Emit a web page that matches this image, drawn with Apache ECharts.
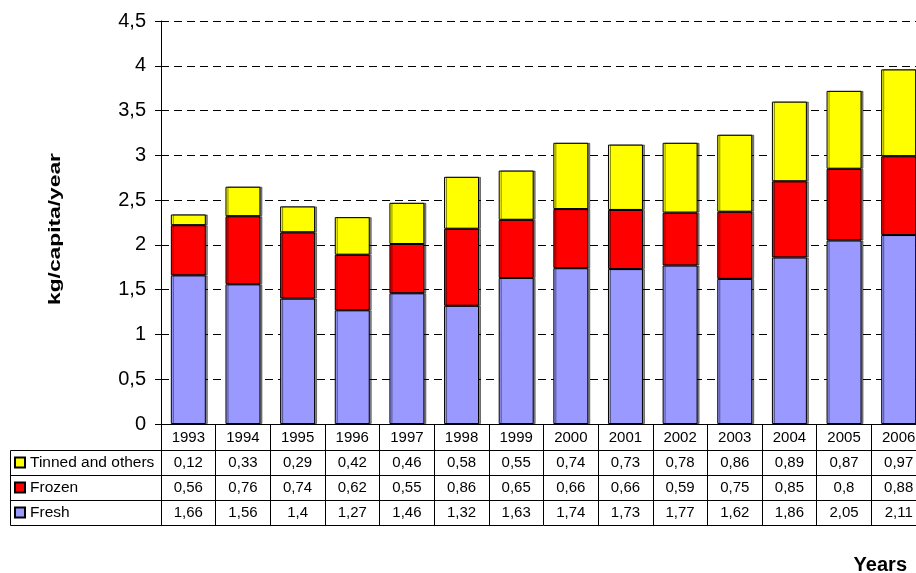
<!DOCTYPE html>
<html>
<head>
<meta charset="utf-8">
<script src="https://cdn.jsdelivr.net/npm/echarts@6/dist/echarts.min.js"></script>
<style>
  html, body { margin: 0; padding: 0; background: #fff; overflow: hidden; }
  /* the original chart runs past the right edge of the picture */
  #chart { width: 932px; height: 573px; }
</style>
</head>
<body>
<div id="chart"></div>
<script>
var years = ['1993','1994','1995','1996','1997','1998','1999','2000','2001','2002','2003','2004','2005','2006'];
var fresh  = [1.66, 1.56, 1.4, 1.27, 1.46, 1.32, 1.63, 1.74, 1.73, 1.77, 1.62, 1.86, 2.05, 2.11];
var frozen = [0.56, 0.76, 0.74, 0.62, 0.55, 0.86, 0.65, 0.66, 0.66, 0.59, 0.75, 0.85, 0.8, 0.88];
var tinned = [0.12, 0.33, 0.29, 0.42, 0.46, 0.58, 0.55, 0.74, 0.73, 0.78, 0.86, 0.89, 0.87, 0.97];

var FONT = 'Liberation Sans, Arial, sans-serif';

function comma(v) {
  return String(v).replace('.', ',');
}

// one x axis per table row, stacked below the plot
function tableAxis(offset, values) {
  return {
    type: 'category',
    data: years,
    position: 'bottom',
    offset: offset,
    axisLine: { show: true, lineStyle: { color: '#000', width: 1 } },
    axisTick: { show: false },
    axisLabel: {
      show: !!values,
      interval: 0,
      margin: 5,
      color: '#000',
      fontFamily: FONT,
      fontSize: 15,
      formatter: function (val, idx) { return values ? comma(values[idx]) : ''; }
    }
  };
}

var barStyle = function (color) {
  return {
    color: color,
    borderColor: '#000',
    borderWidth: 1,
    shadowColor: 'rgba(0,0,0,0.45)',
    shadowOffsetX: 2,
    shadowOffsetY: 0,
    shadowBlur: 0
  };
};

var myChart = echarts.init(document.getElementById('chart'));
myChart.setOption({
  backgroundColor: '#fff',
  animation: false,
  textStyle: { fontFamily: FONT },
  grid: { left: 161, top: 21, width: 765, height: 403, outerBoundsMode: 'none' },
  legend: {
    orient: 'vertical',
    left: 14,
    top: 450,
    padding: 0,
    itemGap: 0,
    itemWidth: 10,
    itemHeight: 10,
    icon: 'rect',
    data: ['Tinned and others', 'Frozen', 'Fresh'],
    itemStyle: { shadowColor: 'transparent', shadowOffsetX: 0 },
    textStyle: { color: '#000', fontSize: 15.5, fontFamily: FONT, lineHeight: 25 }
  },
  xAxis: [
    {
      type: 'category',
      data: years,
      position: 'bottom',
      axisLine: { show: true, lineStyle: { color: '#000', width: 1 } },
      axisTick: { show: true, interval: 0, length: 101, lineStyle: { color: '#000', width: 1 } },
      axisLabel: { interval: 0, margin: 6, color: '#000', fontFamily: FONT, fontSize: 15 }
    },
    tableAxis(26, tinned),
    tableAxis(51, frozen),
    tableAxis(76, fresh),
    tableAxis(101, null)
  ],
  yAxis: {
    type: 'value',
    min: 0,
    max: 4.5,
    interval: 0.5,
    axisLine: { show: true, lineStyle: { color: '#000', width: 1 } },
    axisTick: { show: true, length: 6, lineStyle: { color: '#000' } },
    axisLabel: {
      margin: 15,
      color: '#000',
      fontFamily: FONT,
      fontSize: 20,
      formatter: function (v) { return comma(v); }
    },
    splitLine: { show: true, lineStyle: { color: '#000', width: 1, type: [8, 5] } }
  },
  graphic: [
    // row header box of the data table
    { type: 'rect', shape: { x: 10.5, y: 450.5, width: 151, height: 75 },
      style: { fill: 'none', stroke: '#000', lineWidth: 1 }, z: 10 },
    { type: 'line', shape: { x1: 10.5, y1: 475.5, x2: 161.5, y2: 475.5 },
      style: { stroke: '#000', lineWidth: 1 }, z: 10 },
    { type: 'line', shape: { x1: 10.5, y1: 500.5, x2: 161.5, y2: 500.5 },
      style: { stroke: '#000', lineWidth: 1 }, z: 10 },
    // axis titles
    { type: 'text', x: 55, y: 229, rotation: Math.PI / 2, scaleX: 1.34,
      style: { text: 'kg/capita/year', font: 'bold 17px ' + FONT, fill: '#000',
               align: 'center', verticalAlign: 'middle' } },
    { type: 'text', x: 907, y: 565,
      style: { text: 'Years', font: 'bold 20px ' + FONT, fill: '#000',
               align: 'right', verticalAlign: 'middle' } }
  ],
  series: [
    { name: 'Fresh', type: 'bar', stack: 'total', barWidth: '64%', data: fresh, itemStyle: barStyle('#9999FF') },
    { name: 'Frozen', type: 'bar', stack: 'total', barWidth: '64%', data: frozen, itemStyle: barStyle('#FF0000') },
    { name: 'Tinned and others', type: 'bar', stack: 'total', barWidth: '64%', data: tinned, itemStyle: barStyle('#FFFF00') }
  ]
});
</script>
</body>
</html>
